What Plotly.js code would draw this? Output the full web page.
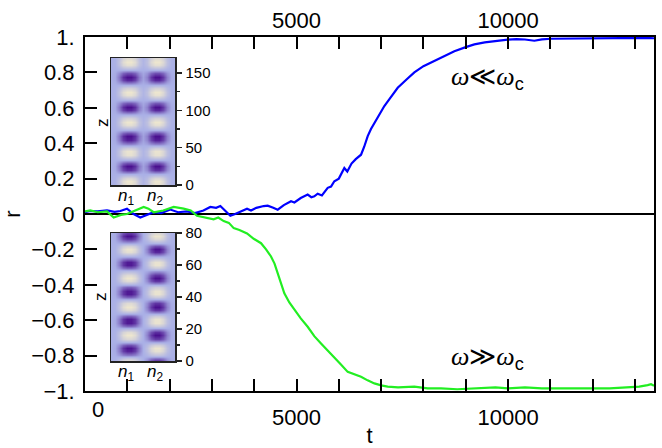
<!DOCTYPE html>
<html>
<head>
<meta charset="utf-8">
<script src="https://cdn.plot.ly/plotly-3.0.1.min.js"></script>
<style>html,body{margin:0;padding:0;background:#fff;}#chart{width:662px;height:448px;}</style>
</head>
<body>
<div id="chart"></div>
<script>
// ---- main curves: r(t) ----
const tBlue = [0,125,300,520,700,835,993,1150,1307,1450,1623,1800,2017,2200,2411,2600,2800,2962,3100,3199,3300,3436,3550,3700,3830,3924,4050,4224,4318,4450,4555,4700,4870,4950,5100,5264,5350,5421,5500,5600,5737,5816,5894,6000,6130,6200,6300,6400,6525,6600,6683,6760,6840,6950,7076,7200,7392,7600,7785,8000,8258,8500,8731,9000,9204,9450,9676,9850,9992,10200,10400,10622,10800,11017,11300,11600,12000,12400,12986,13200,13450];
const rBlue = [0.01,0.017,0.015,0.02,0.012,0.017,0.03,0.0,-0.02,-0.005,0.01,0.005,0.025,0.01,0.015,0.005,0.02,0.04,0.035,0.045,0.02,-0.01,0.0,0.015,0.03,0.02,0.035,0.045,0.047,0.035,0.024,0.05,0.072,0.065,0.09,0.11,0.095,0.1,0.115,0.105,0.148,0.155,0.185,0.2,0.26,0.24,0.285,0.31,0.335,0.38,0.44,0.48,0.514,0.555,0.61,0.65,0.713,0.76,0.8,0.835,0.864,0.895,0.92,0.943,0.958,0.97,0.977,0.981,0.985,0.988,0.986,0.979,0.987,0.99,0.991,0.992,0.993,0.994,0.993,0.995,0.993];
const tGreen = [0,125,300,520,678,850,993,1200,1387,1500,1623,1850,2096,2332,2500,2647,2850,3041,3150,3278,3400,3515,3650,3830,3988,4161,4280,4397,4480,4555,4640,4712,4830,4948,5100,5264,5420,5579,5740,5894,6050,6210,6360,6525,6680,6840,7000,7155,7400,7785,8100,8415,8800,9362,9700,10000,10400,10800,11200,11600,12000,12400,12800,13100,13300,13380,13450];
const rGreen = [0.015,0.02,0.01,0.015,-0.02,-0.005,0.0,0.02,0.04,0.03,0.01,0.02,0.04,0.03,0.02,-0.01,-0.02,-0.03,-0.02,-0.04,-0.05,-0.08,-0.09,-0.11,-0.14,-0.165,-0.2,-0.24,-0.28,-0.334,-0.4,-0.448,-0.5,-0.542,-0.59,-0.637,-0.69,-0.731,-0.77,-0.807,-0.85,-0.892,-0.905,-0.92,-0.94,-0.957,-0.968,-0.975,-0.98,-0.975,-0.985,-0.985,-0.99,-0.985,-0.98,-0.985,-0.98,-0.985,-0.985,-0.983,-0.985,-0.985,-0.98,-0.975,-0.967,-0.962,-0.97];

// ---- tick labels ----
const xTickVals = [0, 5000, 10000];
const xTickText = ['0', '5000', '10000'];
const yTickVals = [-1, -0.8, -0.6, -0.4, -0.2, 0, 0.2, 0.4, 0.6, 0.8, 1];
const yTickText = ['\u22121.', '\u22120.8', '\u22120.6', '\u22120.4', '\u22120.2', '0', '0.2', '0.4', '0.6', '0.8', '1.'];

// ---- inset heat maps ----
const colX  = [0,1,2,3,4,5,6,7,8,9,10,11,12,13,14,15,16];
const colW1 = [0,0.05,0.35,0.8,1,1,0.8,0.35,0.05,0,0,0,0,0,0,0,0];
const colW2 = [0,0,0,0,0,0,0,0,0.05,0.3,0.75,1,1,0.75,0.3,0.05,0];

const topZ = [0,5,10,15,20,25,30,35,40,45,50,55,60,65,70,75,80,85,90,95,100,105,110,115,120,125,130,135,140,145,150,155,160,165,170];
const topN = [-0.9,-1.0,-0.7,0.0,0.8,1.0,0.6,-0.2,-0.9,-0.95,-0.5,0.3,0.9,1.0,0.6,-0.2,-0.85,-1.0,-0.6,0.1,0.85,1.0,0.55,-0.25,-0.9,-1.0,-0.6,0.15,0.85,1.0,0.6,-0.2,-0.85,-1.0,-0.8];
const topInsetTicks = [0, 50, 100, 150];

const botZ = [0,2,4,6,8,10,12,14,16,18,20,22,24,26,28,30,32,34,36,38,40,42,44,46,48,50,52,54,56,58,60,62,64,66,68,70,72,74,76,78,80];
const botN1 = [-0.87,-0.33,0.36,0.88,0.98,0.6,-0.07,-0.71,-1.0,-0.8,-0.21,0.48,0.94,0.94,0.5,-0.17,-0.77,-1.0,-0.77,-0.17,0.5,0.94,0.94,0.5,-0.17,-0.77,-1.0,-0.77,-0.17,0.5,0.94,0.93,0.44,-0.28,-0.85,-0.98,-0.6,0.09,0.74,1.0,0.74];
const botN2 = [0.87,0.33,-0.36,-0.88,-0.98,-0.6,0.07,0.71,1.0,0.8,0.21,-0.48,-0.94,-0.94,-0.5,0.17,0.77,1.0,0.77,0.17,-0.5,-0.94,-0.94,-0.5,0.17,0.77,1.0,0.77,0.17,-0.5,-0.94,-0.93,-0.44,0.28,0.85,0.98,0.6,-0.09,-0.74,-1.0,-0.74];
const botInsetTicks = [0, 20, 40, 60, 80];

function field(n1, n2) {
  return n1.map((a, i) => colX.map((_, j) => colW1[j] * a + colW2[j] * n2[i]));
}
const cscale = [[0, '#ede6cf'], [0.5, '#aab0e6'], [1, '#4a108f']];

const FONT = 'Liberation Sans, Arial, sans-serif';

const traces = [
  {x: tBlue, y: rBlue, xaxis: 'x', yaxis: 'y', mode: 'lines', line: {color: '#0000ff', width: 2.2}, hoverinfo: 'skip', showlegend: false},
  {x: tGreen, y: rGreen, xaxis: 'x', yaxis: 'y', mode: 'lines', line: {color: '#22ee22', width: 2.2}, hoverinfo: 'skip', showlegend: false},
  {x: [0, 13450], y: [0, 0], xaxis: 'x4', yaxis: 'y', mode: 'lines', opacity: 0, hoverinfo: 'skip', showlegend: false},
  {type: 'heatmap', x: colX, y: topZ, z: field(topN, topN), xaxis: 'x2', yaxis: 'y2', colorscale: cscale, zmin: -1, zmax: 1, zsmooth: 'best', showscale: false, hoverinfo: 'skip'},
  {type: 'heatmap', x: colX, y: botZ, z: field(botN1, botN2), xaxis: 'x3', yaxis: 'y3', colorscale: cscale, zmin: -1, zmax: 1, zsmooth: 'best', showscale: false, hoverinfo: 'skip'}
];

const insetX = (anchor, dom) => ({anchor: anchor, domain: dom, range: [0, 16], showticklabels: false, ticks: '', showgrid: false, zeroline: false, showline: true, mirror: true, linecolor: '#222', linewidth: 1.5, layer: 'above traces'});
const insetY = (anchor, dom, rng, tv, minorDt) => ({
  anchor: anchor, domain: dom, side: 'right', range: rng, tickvals: tv, ticks: 'outside', ticklen: 5, tickwidth: 1.5, tickcolor: '#222',
  minor: {dtick: minorDt, tick0: 0, ticks: 'outside', ticklen: 3, tickwidth: 1.2, tickcolor: '#222'},
  showgrid: false, zeroline: false, showline: true, mirror: true, linecolor: '#222', linewidth: 1.5, layer: 'above traces',
  tickfont: {family: FONT, size: 15, color: '#000'}, ticklabelstandoff: 1
});

const P = (px) => (px - 85) / 569;     // paper x from pixel
const Q = (py) => (391 - py) / 354;    // paper y from pixel
const omegaFont = {family: 'Liberation Serif, DejaVu Serif, serif', size: 26};
const cSpan = '<sub><span style="font-family:Liberation Sans;font-style:normal">c</span></sub>';
const lab = (x, y, text, extra) => Object.assign({xref: 'paper', yref: 'paper', x: P(x), y: Q(y), xanchor: 'center', yanchor: 'middle', showarrow: false, text: text, font: {family: FONT, size: 17}}, extra || {});

const layout = {
  width: 662, height: 448,
  margin: {l: 85, r: 8, t: 37, b: 57},
  paper_bgcolor: '#fff', plot_bgcolor: '#fff',
  font: {family: FONT, color: '#000'},
  showlegend: false,
  xaxis: {
    domain: [0, 1], anchor: 'y', range: [0, 13450],
    tickvals: xTickVals.slice(1), ticktext: xTickText.slice(1),
    ticks: 'inside', ticklen: 12, tickwidth: 2, tickcolor: '#000',
    minor: {dtick: 1000, tick0: 0, ticks: 'inside', ticklen: 12, tickwidth: 2, tickcolor: '#000'},
    showgrid: false, zeroline: false, showline: true, mirror: true, linecolor: '#000', linewidth: 2,
    tickfont: {family: FONT, size: 22}, ticklabelstandoff: 6,
    title: {text: 't', font: {family: FONT, size: 22}, standoff: 8}
  },
  xaxis4: {
    overlaying: 'x', anchor: 'y', side: 'top', range: [0, 13450],
    tickvals: xTickVals.slice(1), ticktext: xTickText.slice(1),
    ticks: 'inside', ticklen: 12, tickwidth: 2, tickcolor: '#000',
    minor: {dtick: 1000, tick0: 0, ticks: 'inside', ticklen: 12, tickwidth: 2, tickcolor: '#000'},
    showgrid: false, zeroline: false, showline: false,
    tickfont: {family: FONT, size: 22}, ticklabelstandoff: 4
  },
  yaxis: {
    domain: [0, 1], anchor: 'x', range: [-1, 1],
    tickvals: yTickVals, ticktext: yTickText,
    ticks: 'inside', ticklen: 12, tickwidth: 2, tickcolor: '#000',
    showgrid: false, zeroline: true, zerolinecolor: '#000', zerolinewidth: 2,
    showline: true, mirror: true, linecolor: '#000', linewidth: 2,
    tickfont: {family: FONT, size: 22}, ticklabelstandoff: 4,
    title: {text: 'r', font: {family: FONT, size: 22}, standoff: 10}
  },
  xaxis2: insetX('y2', [P(111), P(175)]),
  yaxis2: insetY('x2', [Q(185), Q(58)], [0, 170], topInsetTicks, 25),
  xaxis3: insetX('y3', [P(111), P(175)]),
  yaxis3: insetY('x3', [Q(361), Q(233)], [0, 80], botInsetTicks, 10),
  annotations: [
    {xref: 'x', yref: 'paper', x: xTickVals[0], y: -0.053, text: xTickText[0], showarrow: false, xshift: 13, xanchor: 'center', yanchor: 'middle', font: {family: FONT, size: 22}},
    {xref: 'paper', yref: 'paper', x: P(449), y: Q(78), xanchor: 'left', yanchor: 'middle', showarrow: false,
     text: '<i>\u03c9</i>\u226a<i>\u03c9</i>' + cSpan, font: omegaFont},
    {xref: 'paper', yref: 'paper', x: P(449), y: Q(358), xanchor: 'left', yanchor: 'middle', showarrow: false,
     text: '<i>\u03c9</i>\u226b<i>\u03c9</i>' + cSpan, font: omegaFont},
    lab(126, 197, '<i>n</i><sub>1</sub>'),
    lab(155, 197, '<i>n</i><sub>2</sub>'),
    lab(126, 373, '<i>n</i><sub>1</sub>'),
    lab(155, 373, '<i>n</i><sub>2</sub>'),
    lab(102, 123, 'z', {textangle: -90}),
    lab(100, 297, 'z', {textangle: -90})
  ]
};

Plotly.newPlot('chart', traces, layout, {staticPlot: true, displayModeBar: false});
</script>
</body>
</html>
